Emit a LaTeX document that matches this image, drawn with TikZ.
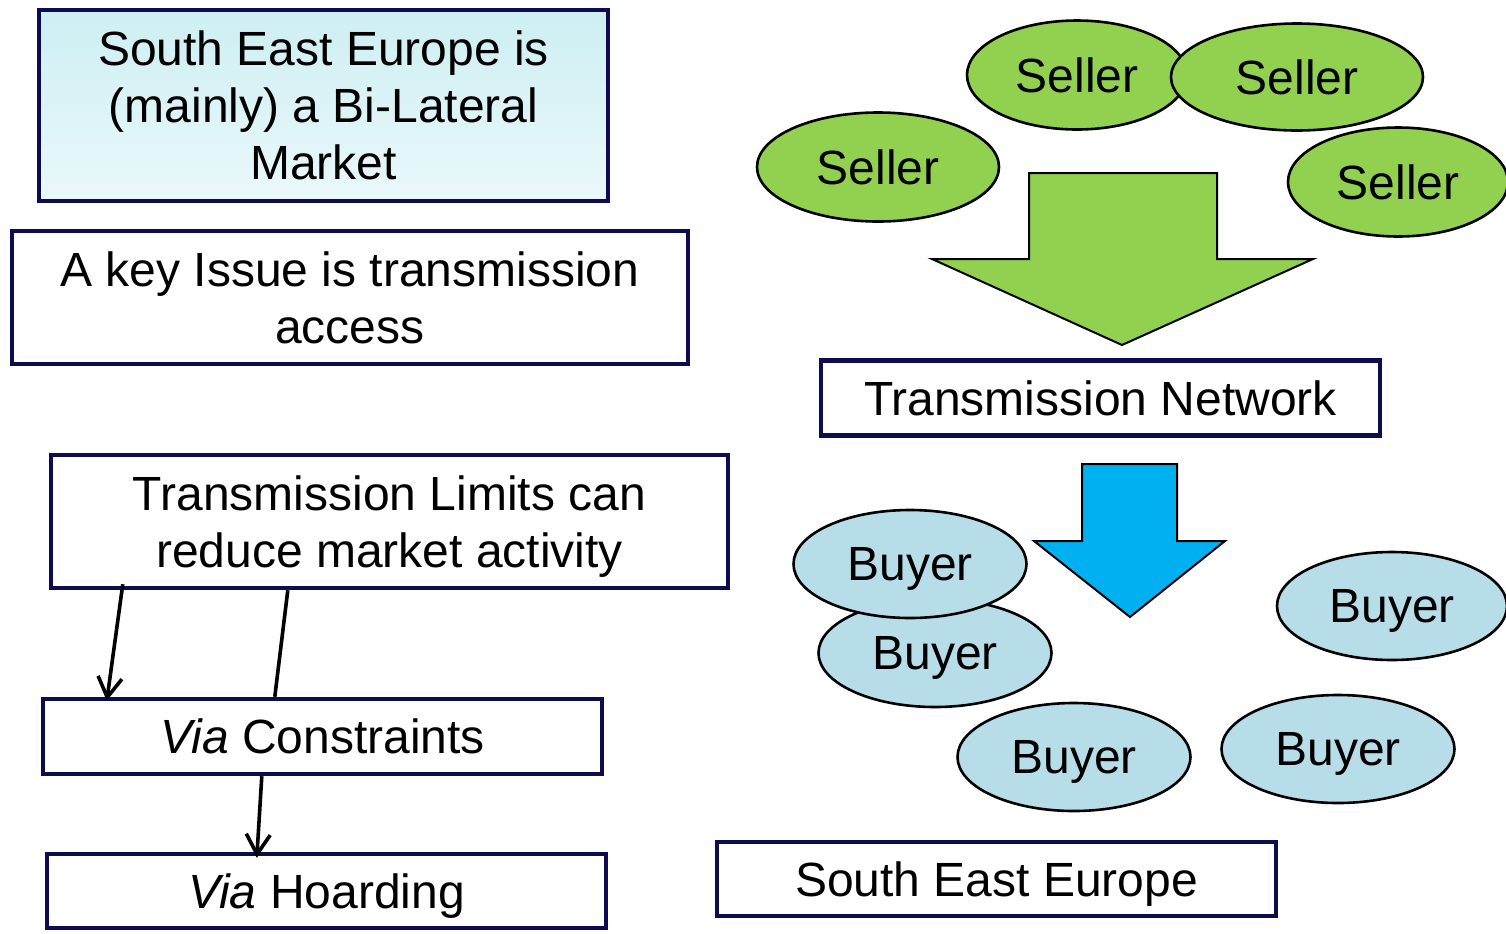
\documentclass[tikz,border=0pt]{standalone}
\usepackage{fontspec}
\setmainfont{Liberation Sans}
\usetikzlibrary{shapes.geometric,arrows.meta}
\definecolor{navy}{RGB}{12,12,80}
\definecolor{sellergreen}{RGB}{146,208,80}
\definecolor{buyerblue}{RGB}{183,222,232}
\definecolor{arrowblue}{RGB}{0,176,240}
\tikzset{
  txt/.style={font=\fontsize{24}{28.5}\selectfont,text depth=0pt},
  box/.style={txt,draw=navy,line width=2.2pt,fill=white,align=center,inner sep=0pt},
  seller/.style={txt,ellipse,draw=black,line width=1.3pt,fill=sellergreen,inner sep=0pt,minimum height=54.5pt},
  buyer/.style={txt,ellipse,draw=black,line width=1.3pt,fill=buyerblue,inner sep=0pt,minimum width=116.5pt,minimum height=54pt},
  conn/.style={line width=1.8pt,-{Straight Barb[length=10pt,width=12pt]}},
  bigarrow/.style={draw=black,line width=1pt}
}
\begin{document}
\begin{tikzpicture}[x=0.5pt,y=-0.5pt]
  \useasboundingbox (0,0) rectangle (1506,933);
  \begin{scope}
    \clip (0,0) rectangle (1506,933);
    %% left column
    \node[box,top color={rgb,255:red,205;green,239;blue,243},bottom color={rgb,255:red,235;green,248;blue,250},
      minimum width=284.5pt,minimum height=95.5pt] (bilateral) at (323.5,105.5)
      {South East Europe is\\(mainly) a Bi-Lateral\\Market};
    \node[box,minimum width=338pt,minimum height=66.5pt] (issue) at (350,297.5)
      {A key Issue is transmission\\access};
    \node[box,minimum width=338.5pt,minimum height=66.5pt] (limits) at (389.5,521.5)
      {Transmission Limits can\\reduce market activity};
    \node[box,minimum width=279.5pt,minimum height=37.5pt] (constr) at (322.5,736.5)
      {\textit{Via} Constraints};
    \node[box,minimum width=279.5pt,minimum height=37pt] (hoard) at (326.5,891)
      {\textit{Via} Hoarding};
    \draw[conn] ([xshift=37pt,yshift=3pt]limits.south west) -- ([xshift=33pt,yshift=-2pt]constr.north west);
    \draw[line width=1.8pt] ([xshift=119.5pt]limits.south west) -- ([xshift=117pt]constr.north west);
    \draw[conn] ([xshift=110.5pt]constr.south west) -- ([xshift=106pt,yshift=-3pt]hoard.north west);
    %% sellers
    \node[seller,minimum width=110pt] (s1) at (1077,75) {Seller};
    \node[seller,minimum width=126pt,minimum height=53.5pt] (s2) at (1297,77) {Seller};
    \node[seller,minimum width=121pt] (s3) at (878,167) {Seller};
    \node[seller,minimum width=110pt] (s4) at (1398,182) {Seller};
    \draw[bigarrow,fill=sellergreen] (1029,173) -- (1217,173) -- (1217,259) -- (1313,259)
      -- (1122,345) -- (932,259) -- (1029,259) -- cycle;
    \node[box,minimum width=279.5pt,minimum height=37.5pt] (network) at (1100.5,398)
      {Transmission Network};
    \draw[bigarrow,fill=arrowblue] (1082,464) -- (1177,464) -- (1177,541) -- (1225,541)
      -- (1130,617) -- (1034,541) -- (1082,541) -- cycle;
    %% buyers
    \node[buyer] (b2) at (935,653) {Buyer};
    \node[buyer] (b1) at (910,564) {Buyer};
    \node[buyer,minimum width=115pt] (b3) at (1392,606) {Buyer};
    \node[buyer] (b4) at (1074,757) {Buyer};
    \node[buyer] (b5) at (1338,749) {Buyer};
    \node[box,minimum width=279.5pt,minimum height=37pt] (see) at (996.5,879)
      {South East Europe};
  \end{scope}
\end{tikzpicture}
\end{document}
